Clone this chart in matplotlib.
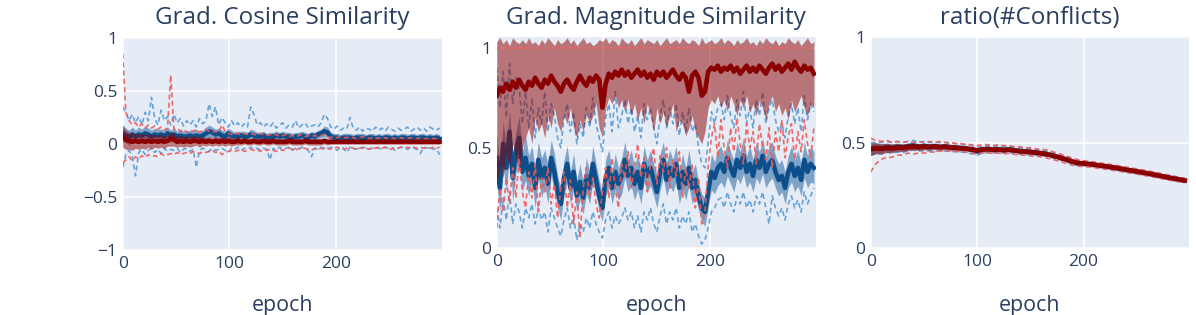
import matplotlib
matplotlib.use('Agg')
import matplotlib.pyplot as plt
import numpy as np

plt.rcParams['font.family'] = ['Open Sans', 'DejaVu Sans']

# panels 1 and 2 are read every 3 epochs, panel 3 every 5 epochs
epochs = list(range(0, 300, 3))
epochs3 = list(range(0, 300, 5))

# ---- Grad. Cosine Similarity ----
blue_mean1 = [0.10, 0.08, 0.06, 0.09, 0.07, 0.09, 0.08, 0.10, 0.09, 0.07,
              0.09, 0.08, 0.09, 0.07, 0.10, 0.08, 0.09, 0.07, 0.08, 0.07,
              0.07, 0.08, 0.07, 0.08, 0.07, 0.08, 0.10, 0.12, 0.11, 0.09,
              0.10, 0.08, 0.07, 0.10, 0.08, 0.07, 0.07, 0.08, 0.07, 0.07,
              0.09, 0.08, 0.07, 0.07, 0.08, 0.06, 0.07, 0.07, 0.08, 0.07,
              0.08, 0.07, 0.07, 0.06, 0.07, 0.07, 0.08, 0.07, 0.06, 0.08,
              0.07, 0.09, 0.10, 0.12, 0.11, 0.07, 0.06, 0.06, 0.05, 0.06,
              0.06, 0.06, 0.05, 0.06, 0.06, 0.06, 0.05, 0.06, 0.06, 0.05,
              0.06, 0.05, 0.06, 0.06, 0.05, 0.06, 0.05, 0.06, 0.06, 0.05,
              0.06, 0.06, 0.05, 0.06, 0.06, 0.05, 0.06, 0.05, 0.06, 0.05]
blue_std1 = [0.08, 0.07, 0.07, 0.07, 0.06, 0.07, 0.06, 0.07, 0.06, 0.06,
             0.06, 0.06, 0.05, 0.06, 0.06, 0.05, 0.06, 0.05, 0.06, 0.05,
             0.05, 0.05, 0.05, 0.06, 0.05, 0.05, 0.06, 0.06, 0.05, 0.05,
             0.05, 0.05, 0.05, 0.05, 0.05, 0.04, 0.05, 0.04, 0.05, 0.04,
             0.05, 0.05, 0.04, 0.04, 0.04, 0.04, 0.04, 0.04, 0.04, 0.04,
             0.04, 0.04, 0.04, 0.04, 0.04, 0.04, 0.04, 0.04, 0.04, 0.04,
             0.04, 0.04, 0.04, 0.05, 0.05, 0.04, 0.04, 0.04, 0.04, 0.04,
             0.04, 0.04, 0.04, 0.04, 0.04, 0.04, 0.04, 0.04, 0.04, 0.04,
             0.04, 0.04, 0.04, 0.04, 0.04, 0.04, 0.04, 0.04, 0.04, 0.04,
             0.04, 0.04, 0.04, 0.04, 0.04, 0.04, 0.04, 0.04, 0.04, 0.04]
blue_max1 = [0.35, 0.30, 0.22, 0.28, 0.20, 0.26, 0.18, 0.30, 0.22, 0.44,
             0.24, 0.18, 0.32, 0.22, 0.26, 0.18, 0.28, 0.20, 0.24, 0.17,
             0.22, 0.18, 0.22, 0.16, 0.24, 0.19, 0.22, 0.38, 0.26, 0.35,
             0.18, 0.25, 0.20, 0.16, 0.22, 0.17, 0.20, 0.16, 0.19, 0.16,
             0.35, 0.28, 0.18, 0.20, 0.16, 0.19, 0.16, 0.20, 0.15, 0.18,
             0.20, 0.15, 0.18, 0.16, 0.22, 0.15, 0.18, 0.20, 0.15, 0.17,
             0.18, 0.16, 0.20, 0.28, 0.24, 0.16, 0.14, 0.17, 0.13, 0.15,
             0.14, 0.25, 0.15, 0.13, 0.16, 0.12, 0.15, 0.14, 0.12, 0.16,
             0.13, 0.15, 0.12, 0.16, 0.14, 0.12, 0.15, 0.13, 0.14, 0.16,
             0.12, 0.14, 0.16, 0.13, 0.15, 0.12, 0.16, 0.14, 0.13, 0.15]
blue_min1 = [-0.22, -0.10, -0.06, -0.12, -0.30, -0.08, -0.05, -0.10, -0.06, -0.04,
             -0.08, -0.05, -0.09, -0.04, -0.07, -0.05, -0.06, -0.04, -0.08, -0.05,
             -0.04, -0.07, -0.05, -0.22, -0.06, -0.04, -0.05, -0.07, -0.04, -0.06,
             -0.05, -0.04, -0.06, -0.08, -0.04, -0.05, -0.03, -0.06, -0.04, -0.05,
             -0.03, -0.05, -0.04, -0.06, -0.04, -0.05, -0.15, -0.04, -0.06, -0.03,
             -0.05, -0.04, -0.03, -0.06, -0.04, -0.05, -0.03, -0.04, -0.06, -0.12,
             -0.04, -0.05, -0.03, -0.04, -0.05, -0.03, -0.04, -0.06, -0.03, -0.04,
             -0.08, -0.03, -0.04, -0.05, -0.03, -0.04, -0.03, -0.05, -0.04, -0.03,
             -0.04, -0.05, -0.03, -0.04, -0.03, -0.06, -0.04, -0.03, -0.04, -0.05,
             -0.03, -0.04, -0.05, -0.09, -0.03, -0.04, -0.03, -0.05, -0.04, -0.10]
red_mean1 = [0.07, 0.04, 0.03, 0.02, 0.03, 0.02, 0.03, 0.02, 0.03, 0.02,
             0.03, 0.02, 0.03, 0.02, 0.03, 0.05, 0.04, 0.02, 0.03, 0.02,
             0.03, 0.02, 0.03, 0.03, 0.02, 0.03, 0.02, 0.03, 0.02, 0.03,
             0.02, 0.03, 0.02, 0.03, 0.02, 0.02, 0.03, 0.02, 0.03, 0.02,
             0.02, 0.03, 0.02, 0.02, 0.03, 0.02, 0.02, 0.03, 0.02, 0.02,
             0.02, 0.02, 0.03, 0.02, 0.02, 0.02, 0.02, 0.03, 0.02, 0.02,
             0.02, 0.02, 0.02, 0.03, 0.02, 0.02, 0.02, 0.02, 0.02, 0.02,
             0.02, 0.02, 0.02, 0.02, 0.02, 0.02, 0.02, 0.02, 0.02, 0.02,
             0.02, 0.02, 0.02, 0.02, 0.02, 0.02, 0.02, 0.02, 0.02, 0.02,
             0.02, 0.02, 0.02, 0.02, 0.02, 0.02, 0.02, 0.02, 0.02, 0.02]
red_std1 = [0.10, 0.09, 0.08, 0.08, 0.07, 0.07, 0.07, 0.07, 0.06, 0.07,
            0.06, 0.06, 0.06, 0.06, 0.05, 0.07, 0.06, 0.05, 0.05, 0.05,
            0.05, 0.05, 0.05, 0.04, 0.05, 0.04, 0.04, 0.04, 0.04, 0.04,
            0.04, 0.04, 0.04, 0.04, 0.04, 0.03, 0.04, 0.03, 0.03, 0.03,
            0.03, 0.03, 0.03, 0.03, 0.03, 0.03, 0.03, 0.03, 0.03, 0.03,
            0.03, 0.03, 0.03, 0.03, 0.03, 0.03, 0.03, 0.03, 0.03, 0.03,
            0.03, 0.03, 0.03, 0.03, 0.03, 0.02, 0.02, 0.02, 0.02, 0.02,
            0.02, 0.02, 0.02, 0.02, 0.02, 0.02, 0.02, 0.02, 0.02, 0.02,
            0.02, 0.02, 0.02, 0.02, 0.02, 0.02, 0.02, 0.02, 0.02, 0.02,
            0.02, 0.02, 0.02, 0.02, 0.02, 0.02, 0.02, 0.02, 0.02, 0.02]
red_max1 = [0.85, 0.30, 0.22, 0.18, 0.20, 0.16, 0.19, 0.15, 0.18, 0.15,
            0.17, 0.14, 0.16, 0.13, 0.15, 0.65, 0.14, 0.15, 0.12, 0.14,
            0.11, 0.13, 0.12, 0.14, 0.11, 0.13, 0.14, 0.12, 0.11, 0.12,
            0.11, 0.18, 0.12, 0.10, 0.09, 0.11, 0.10, 0.09, 0.10, 0.09,
            0.10, 0.09, 0.08, 0.10, 0.09, 0.08, 0.09, 0.08, 0.09, 0.07,
            0.08, 0.09, 0.07, 0.08, 0.07, 0.08, 0.09, 0.07, 0.08, 0.07,
            0.08, 0.07, 0.08, 0.09, 0.07, 0.06, 0.07, 0.06, 0.07, 0.06,
            0.06, 0.07, 0.06, 0.05, 0.06, 0.07, 0.06, 0.05, 0.06, 0.05,
            0.06, 0.05, 0.06, 0.05, 0.06, 0.05, 0.05, 0.06, 0.05, 0.05,
            0.06, 0.05, 0.05, 0.06, 0.05, 0.05, 0.06, 0.05, 0.05, 0.05]
red_min1 = [-0.18, -0.15, -0.12, -0.16, -0.12, -0.14, -0.11, -0.13, -0.10, -0.12,
            -0.11, -0.12, -0.09, -0.11, -0.10, -0.09, -0.10, -0.08, -0.10, -0.09,
            -0.08, -0.09, -0.07, -0.08, -0.09, -0.07, -0.08, -0.07, -0.06, -0.08,
            -0.07, -0.10, -0.08, -0.07, -0.06, -0.07, -0.06, -0.05, -0.07, -0.06,
            -0.05, -0.06, -0.05, -0.07, -0.05, -0.06, -0.05, -0.06, -0.07, -0.05,
            -0.06, -0.05, -0.04, -0.05, -0.06, -0.04, -0.05, -0.04, -0.05, -0.06,
            -0.04, -0.05, -0.04, -0.05, -0.04, -0.05, -0.04, -0.03, -0.04, -0.05,
            -0.04, -0.03, -0.04, -0.05, -0.04, -0.03, -0.04, -0.05, -0.03, -0.04,
            -0.03, -0.04, -0.03, -0.04, -0.05, -0.03, -0.04, -0.03, -0.04, -0.03,
            -0.04, -0.03, -0.04, -0.03, -0.04, -0.03, -0.04, -0.03, -0.04, -0.03]

# ---- Grad. Magnitude Similarity ----
blue_mean2 = [0.45, 0.30, 0.52, 0.40, 0.58, 0.35, 0.48, 0.55, 0.38, 0.45,
              0.36, 0.42, 0.30, 0.44, 0.35, 0.40, 0.32, 0.45, 0.38, 0.28,
              0.22, 0.35, 0.42, 0.30, 0.38, 0.26, 0.33, 0.25, 0.36, 0.30,
              0.42, 0.34, 0.26, 0.20, 0.35, 0.40, 0.30, 0.38, 0.32, 0.36,
              0.44, 0.36, 0.40, 0.32, 0.38, 0.30, 0.42, 0.36, 0.40, 0.34,
              0.28, 0.38, 0.44, 0.34, 0.40, 0.36, 0.42, 0.30, 0.38, 0.32,
              0.40, 0.30, 0.34, 0.26, 0.20, 0.18, 0.28, 0.38, 0.35, 0.40,
              0.42, 0.38, 0.45, 0.40, 0.36, 0.44, 0.40, 0.46, 0.38, 0.42,
              0.36, 0.44, 0.40, 0.46, 0.38, 0.42, 0.44, 0.38, 0.34, 0.36,
              0.30, 0.38, 0.42, 0.36, 0.40, 0.34, 0.44, 0.38, 0.42, 0.40]
blue_std2 = [0.12, 0.12, 0.11, 0.12, 0.11, 0.12, 0.10, 0.11, 0.10, 0.11,
             0.10, 0.09, 0.10, 0.09, 0.10, 0.09, 0.10, 0.09, 0.09, 0.08,
             0.08, 0.09, 0.09, 0.08, 0.09, 0.08, 0.09, 0.08, 0.09, 0.08,
             0.09, 0.08, 0.08, 0.07, 0.09, 0.09, 0.08, 0.09, 0.08, 0.09,
             0.09, 0.08, 0.09, 0.08, 0.09, 0.08, 0.09, 0.08, 0.09, 0.08,
             0.08, 0.09, 0.09, 0.08, 0.09, 0.08, 0.09, 0.08, 0.09, 0.08,
             0.09, 0.08, 0.08, 0.07, 0.07, 0.07, 0.08, 0.09, 0.08, 0.09,
             0.09, 0.08, 0.09, 0.08, 0.08, 0.09, 0.08, 0.09, 0.08, 0.09,
             0.08, 0.09, 0.08, 0.09, 0.08, 0.09, 0.09, 0.08, 0.08, 0.08,
             0.08, 0.08, 0.09, 0.08, 0.09, 0.08, 0.09, 0.08, 0.09, 0.08]
blue_max2 = [0.90, 0.70, 0.88, 0.65, 0.92, 0.72, 0.85, 0.80, 0.62, 0.78,
             0.60, 0.75, 0.55, 0.70, 0.62, 0.78, 0.58, 0.72, 0.66, 0.55,
             0.50, 0.65, 0.72, 0.58, 0.68, 0.52, 0.62, 0.55, 0.70, 0.60,
             0.75, 0.62, 0.55, 0.48, 0.65, 0.72, 0.58, 0.78, 0.60, 0.66,
             0.74, 0.62, 0.70, 0.58, 0.66, 0.55, 0.72, 0.64, 0.70, 0.60,
             0.52, 0.66, 0.74, 0.60, 0.70, 0.62, 0.72, 0.56, 0.68, 0.58,
             0.70, 0.58, 0.62, 0.50, 0.42, 0.40, 0.52, 0.68, 0.62, 0.70,
             0.72, 0.64, 0.76, 0.66, 0.60, 0.74, 0.66, 0.78, 0.62, 0.70,
             0.60, 0.74, 0.66, 0.78, 0.62, 0.70, 0.74, 0.64, 0.58, 0.62,
             0.55, 0.66, 0.72, 0.62, 0.70, 0.58, 0.76, 0.64, 0.72, 0.68]
blue_min2 = [0.20, 0.10, 0.25, 0.14, 0.28, 0.12, 0.22, 0.18, 0.10, 0.20,
             0.15, 0.22, 0.12, 0.20, 0.14, 0.18, 0.08, 0.20, 0.15, 0.10,
             0.06, 0.14, 0.20, 0.10, 0.16, 0.04, 0.12, 0.08, 0.15, 0.10,
             0.18, 0.12, 0.08, 0.05, 0.14, 0.18, 0.10, 0.16, 0.12, 0.15,
             0.20, 0.14, 0.18, 0.10, 0.16, 0.08, 0.18, 0.14, 0.20, 0.12,
             0.08, 0.16, 0.22, 0.12, 0.18, 0.14, 0.20, 0.10, 0.16, 0.12,
             0.18, 0.08, 0.12, 0.06, 0.02, 0.04, 0.10, 0.18, 0.20, 0.24,
             0.25, 0.20, 0.28, 0.22, 0.18, 0.26, 0.22, 0.28, 0.20, 0.24,
             0.18, 0.26, 0.22, 0.28, 0.20, 0.12, 0.26, 0.20, 0.16, 0.20,
             0.14, 0.22, 0.26, 0.20, 0.24, 0.18, 0.28, 0.22, 0.26, 0.30]
red_mean2 = [0.76, 0.80, 0.78, 0.82, 0.79, 0.83, 0.80, 0.84, 0.81, 0.79,
             0.83, 0.81, 0.85, 0.82, 0.80, 0.84, 0.82, 0.86, 0.83, 0.81,
             0.78, 0.82, 0.84, 0.81, 0.79, 0.83, 0.86, 0.83, 0.81, 0.85,
             0.83, 0.86, 0.84, 0.70, 0.82, 0.87, 0.85, 0.88, 0.86, 0.89,
             0.86, 0.88, 0.85, 0.87, 0.89, 0.86, 0.88, 0.85, 0.87, 0.84,
             0.88, 0.86, 0.88, 0.85, 0.87, 0.89, 0.86, 0.84, 0.87, 0.85,
             0.78, 0.86, 0.88, 0.85, 0.76, 0.78, 0.88, 0.90, 0.89, 0.91,
             0.88, 0.90, 0.89, 0.91, 0.88, 0.90, 0.87, 0.89, 0.91, 0.88,
             0.90, 0.88, 0.91, 0.89, 0.87, 0.90, 0.92, 0.89, 0.91, 0.88,
             0.90, 0.92, 0.89, 0.93, 0.90, 0.88, 0.91, 0.89, 0.90, 0.87]
red_hi2 = [1.03, 1.05, 1.02, 1.04, 1.01, 1.05, 1.03, 1.02, 1.04, 1.02,
           1.05, 1.02, 1.03, 1.01, 1.04, 1.02, 1.05, 1.03, 1.01, 1.04,
           1.02, 1.03, 1.05, 1.02, 1.04, 1.01, 1.03, 1.05, 1.02, 1.03,
           1.01, 1.02, 1.04, 1.03, 1.05, 1.02, 1.04, 1.03, 1.01, 1.05,
           1.03, 1.02, 1.04, 1.01, 1.03, 1.05, 1.02, 1.04, 1.03, 1.02,
           1.04, 1.01, 1.03, 1.05, 1.02, 1.03, 1.04, 1.02, 1.05, 1.03,
           1.02, 1.04, 1.03, 1.01, 1.05, 1.02, 1.03, 1.04, 1.02, 1.03,
           1.05, 1.02, 1.04, 1.03, 1.01, 1.04, 1.02, 1.03, 1.05, 1.02,
           1.03, 1.01, 1.04, 1.02, 1.05, 1.03, 1.02, 1.04, 1.01, 1.03,
           1.02, 1.05, 1.03, 1.02, 1.04, 1.01, 1.03, 1.05, 1.02, 1.03]
red_lo2 = [0.30, 0.42, 0.35, 0.48, 0.40, 0.52, 0.45, 0.38, 0.50, 0.55,
           0.60, 0.52, 0.65, 0.58, 0.62, 0.55, 0.66, 0.60, 0.70, 0.62,
           0.58, 0.66, 0.62, 0.70, 0.60, 0.55, 0.64, 0.58, 0.68, 0.62,
           0.66, 0.72, 0.60, 0.55, 0.70, 0.75, 0.72, 0.76, 0.70, 0.74,
           0.68, 0.74, 0.66, 0.72, 0.64, 0.70, 0.62, 0.72, 0.66, 0.58,
           0.70, 0.62, 0.68, 0.60, 0.66, 0.72, 0.58, 0.64, 0.62, 0.56,
           0.60, 0.66, 0.58, 0.55, 0.52, 0.58, 0.70, 0.74, 0.72, 0.76,
           0.70, 0.74, 0.68, 0.76, 0.72, 0.66, 0.74, 0.70, 0.76, 0.68,
           0.72, 0.66, 0.74, 0.70, 0.64, 0.72, 0.76, 0.68, 0.72, 0.66,
           0.70, 0.64, 0.74, 0.68, 0.72, 0.76, 0.70, 0.66, 0.72, 0.70]
red_max2 = [1.00, 1.00, 1.00, 1.00, 1.00, 1.00, 1.00, 1.00, 1.00, 1.00,
            1.00, 1.00, 1.00, 1.00, 1.00, 1.00, 1.00, 1.00, 1.00, 1.00,
            1.00, 1.00, 1.00, 1.00, 1.00, 1.00, 1.00, 1.00, 1.00, 1.00,
            1.00, 1.00, 1.00, 1.00, 1.00, 1.00, 1.00, 1.00, 1.00, 1.00,
            1.00, 1.00, 1.00, 1.00, 1.00, 1.00, 1.00, 1.00, 1.00, 1.00,
            1.00, 1.00, 1.00, 1.00, 1.00, 1.00, 1.00, 1.00, 1.00, 1.00,
            1.00, 1.00, 1.00, 1.00, 1.00, 1.00, 1.00, 1.00, 1.00, 1.00,
            1.00, 1.00, 1.00, 1.00, 1.00, 1.00, 1.00, 1.00, 1.00, 1.00,
            1.00, 1.00, 1.00, 1.00, 1.00, 1.00, 1.00, 1.00, 1.00, 1.00,
            1.00, 1.00, 1.00, 1.00, 1.00, 1.00, 1.00, 1.00, 1.00, 1.00]
red_min2 = [0.10, 0.30, 0.18, 0.35, 0.22, 0.40, 0.25, 0.45, 0.28, 0.20,
            0.38, 0.25, 0.42, 0.18, 0.35, 0.28, 0.40, 0.22, 0.32, 0.15,
            0.30, 0.38, 0.20, 0.34, 0.12, 0.28, 0.05, 0.30, 0.40, 0.25,
            0.35, 0.22, 0.15, 0.28, 0.40, 0.25, 0.45, 0.30, 0.20, 0.42,
            0.35, 0.48, 0.30, 0.40, 0.52, 0.35, 0.45, 0.28, 0.42, 0.50,
            0.32, 0.46, 0.38, 0.50, 0.30, 0.44, 0.36, 0.48, 0.25, 0.40,
            0.30, 0.42, 0.20, 0.35, 0.12, 0.18, 0.40, 0.55, 0.62, 0.45,
            0.64, 0.50, 0.40, 0.60, 0.48, 0.65, 0.52, 0.42, 0.62, 0.50,
            0.58, 0.42, 0.62, 0.50, 0.44, 0.60, 0.40, 0.58, 0.48, 0.64,
            0.45, 0.56, 0.62, 0.44, 0.58, 0.48, 0.64, 0.52, 0.45, 0.60]

# ---- ratio(#Conflicts) ----
blue_mean3 = [0.470, 0.475, 0.472, 0.478, 0.474, 0.480, 0.476, 0.482, 0.486, 0.480,
              0.484, 0.480, 0.483, 0.479, 0.481, 0.478, 0.476, 0.474, 0.472, 0.466,
              0.458, 0.468, 0.470, 0.466, 0.468, 0.465, 0.468, 0.463, 0.460, 0.458,
              0.456, 0.453, 0.450, 0.446, 0.440, 0.433, 0.426, 0.418, 0.408, 0.402,
              0.400, 0.398, 0.395, 0.391, 0.388, 0.384, 0.380, 0.376, 0.371, 0.367,
              0.363, 0.358, 0.354, 0.349, 0.344, 0.339, 0.334, 0.329, 0.325, 0.320]
blue_std3 = [0.030, 0.025, 0.022, 0.020, 0.020, 0.018, 0.018, 0.016, 0.016, 0.015,
             0.015, 0.014, 0.014, 0.013, 0.013, 0.013, 0.012, 0.012, 0.012, 0.012,
             0.011, 0.011, 0.011, 0.011, 0.010, 0.010, 0.010, 0.010, 0.010, 0.010,
             0.009, 0.009, 0.009, 0.009, 0.009, 0.009, 0.009, 0.009, 0.009, 0.009,
             0.008, 0.008, 0.008, 0.008, 0.008, 0.008, 0.008, 0.008, 0.008, 0.008,
             0.008, 0.008, 0.008, 0.008, 0.008, 0.008, 0.008, 0.008, 0.008, 0.008]
blue_max3 = [0.500, 0.500, 0.500, 0.505, 0.500, 0.505, 0.500, 0.505, 0.510, 0.500,
             0.505, 0.500, 0.500, 0.500, 0.500, 0.495, 0.495, 0.490, 0.490, 0.485,
             0.475, 0.485, 0.485, 0.480, 0.485, 0.480, 0.480, 0.478, 0.475, 0.472,
             0.470, 0.466, 0.463, 0.458, 0.452, 0.445, 0.438, 0.430, 0.420, 0.414,
             0.411, 0.408, 0.405, 0.401, 0.398, 0.394, 0.390, 0.386, 0.381, 0.377,
             0.373, 0.368, 0.364, 0.359, 0.354, 0.349, 0.344, 0.339, 0.335, 0.330]
blue_min3 = [0.440, 0.450, 0.445, 0.455, 0.450, 0.455, 0.452, 0.460, 0.465, 0.458,
             0.462, 0.460, 0.462, 0.458, 0.460, 0.458, 0.456, 0.455, 0.452, 0.446,
             0.440, 0.450, 0.452, 0.450, 0.452, 0.450, 0.452, 0.448, 0.445, 0.444,
             0.442, 0.440, 0.437, 0.434, 0.428, 0.421, 0.414, 0.406, 0.396, 0.390,
             0.389, 0.388, 0.385, 0.381, 0.378, 0.374, 0.370, 0.366, 0.361, 0.357,
             0.353, 0.348, 0.344, 0.339, 0.334, 0.329, 0.324, 0.319, 0.315, 0.310]
red_mean3 = [0.468, 0.472, 0.470, 0.474, 0.472, 0.476, 0.475, 0.478, 0.480, 0.478,
             0.480, 0.479, 0.481, 0.478, 0.480, 0.477, 0.475, 0.473, 0.471, 0.468,
             0.463, 0.467, 0.469, 0.466, 0.467, 0.464, 0.466, 0.462, 0.459, 0.457,
             0.455, 0.452, 0.449, 0.445, 0.439, 0.432, 0.425, 0.417, 0.409, 0.403,
             0.401, 0.398, 0.395, 0.391, 0.388, 0.384, 0.380, 0.376, 0.371, 0.367,
             0.363, 0.358, 0.354, 0.349, 0.344, 0.339, 0.334, 0.329, 0.325, 0.320]
red_std3 = [0.030, 0.026, 0.024, 0.022, 0.020, 0.019, 0.018, 0.017, 0.016, 0.016,
            0.015, 0.015, 0.014, 0.014, 0.013, 0.013, 0.013, 0.012, 0.012, 0.012,
            0.012, 0.011, 0.011, 0.011, 0.011, 0.010, 0.010, 0.010, 0.010, 0.010,
            0.010, 0.010, 0.010, 0.009, 0.009, 0.009, 0.009, 0.009, 0.009, 0.009,
            0.008, 0.008, 0.008, 0.008, 0.008, 0.008, 0.008, 0.008, 0.008, 0.008,
            0.008, 0.008, 0.008, 0.008, 0.008, 0.008, 0.008, 0.008, 0.008, 0.008]
red_max3 = [0.520, 0.510, 0.505, 0.510, 0.500, 0.505, 0.500, 0.505, 0.500, 0.505,
            0.500, 0.505, 0.500, 0.505, 0.500, 0.500, 0.495, 0.495, 0.490, 0.490,
            0.485, 0.490, 0.490, 0.485, 0.490, 0.485, 0.485, 0.480, 0.480, 0.475,
            0.475, 0.470, 0.468, 0.465, 0.458, 0.450, 0.442, 0.434, 0.425, 0.418,
            0.414, 0.410, 0.407, 0.403, 0.400, 0.396, 0.392, 0.388, 0.383, 0.379,
            0.375, 0.370, 0.366, 0.361, 0.356, 0.350, 0.345, 0.340, 0.335, 0.330]
red_min3 = [0.360, 0.400, 0.420, 0.430, 0.430, 0.440, 0.440, 0.450, 0.445, 0.450,
            0.450, 0.455, 0.455, 0.460, 0.460, 0.460, 0.458, 0.455, 0.455, 0.450,
            0.445, 0.450, 0.452, 0.448, 0.450, 0.447, 0.448, 0.444, 0.440, 0.440,
            0.437, 0.435, 0.432, 0.427, 0.421, 0.414, 0.407, 0.399, 0.392, 0.388,
            0.386, 0.384, 0.381, 0.377, 0.374, 0.370, 0.366, 0.362, 0.358, 0.354,
            0.350, 0.346, 0.341, 0.337, 0.332, 0.327, 0.322, 0.318, 0.314, 0.310]

titles = ['Grad. Cosine Similarity', 'Grad. Magnitude Similarity', 'ratio(#Conflicts)']

BG = '#E5ECF6'
TXT = '#2a3f5f'
BLUE_LINE = '#0d4f8b'
BLUE_BAND = '#1a5a9a'
BLUE_DASH = '#5b9bd5'
RED_LINE = '#8b0000'
RED_BAND = '#8b0000'
RED_DASH = '#ef5a5a'


def draw_group(ax, x, mean, lo, hi, dmin, dmax, band, dash, line, z):
    ax.fill_between(x, lo, hi, color=band, alpha=0.5, lw=0, zorder=z)
    ax.plot(x, dmin, color=dash, lw=1.2, dashes=(3, 2), alpha=0.9, zorder=z + 1)
    ax.plot(x, dmax, color=dash, lw=1.2, dashes=(3, 2), alpha=0.9, zorder=z + 1)
    ax.plot(x, mean, color=line, lw=3.3, zorder=z + 2)


def style_axes(ax, ylim, yticks, yticklabels):
    ax.set_facecolor(BG)
    for s in ax.spines.values():
        s.set_visible(False)
    ax.set_xlim(0, 299)
    ax.set_ylim(*ylim)
    ax.set_xticks([0, 100, 200])
    ax.set_yticks(yticks)
    ax.set_yticklabels(yticklabels)
    ax.tick_params(length=0, labelsize=12.5, labelcolor=TXT, pad=4)
    ax.grid(True, color='white', lw=1.1)
    ax.set_axisbelow(True)


def main():
    fig = plt.figure(figsize=(11.96, 3.15), dpi=100)
    x = np.array(epochs)
    x3 = np.array(epochs3)
    rects = [[0.1026, 0.2063, 0.2667, 0.673],
             [0.4153, 0.2127, 0.2670, 0.6698],
             [0.7280, 0.2127, 0.2661, 0.6698]]
    axes = [fig.add_axes(r) for r in rects]

    ax = axes[0]
    bm, bs = np.array(blue_mean1), np.array(blue_std1)
    rm, rs = np.array(red_mean1), np.array(red_std1)
    draw_group(ax, x, bm, bm - bs, bm + bs, blue_min1, blue_max1, BLUE_BAND, BLUE_DASH, BLUE_LINE, 2)
    draw_group(ax, x, rm, rm - rs, rm + rs, red_min1, red_max1, RED_BAND, RED_DASH, RED_LINE, 5)
    ax.axhline(0, color='white', lw=1.6, zorder=1)
    style_axes(ax, (-1, 1), [-1, -0.5, 0, 0.5, 1], ['\u22121', '\u22120.5', '0', '0.5', '1'])

    ax = axes[1]
    bm, bs = np.array(blue_mean2), np.array(blue_std2)
    draw_group(ax, x, bm, bm - bs, bm + bs, blue_min2, blue_max2, BLUE_BAND, BLUE_DASH, BLUE_LINE, 2)
    draw_group(ax, x, red_mean2, red_lo2, red_hi2, red_min2, red_max2, RED_BAND, RED_DASH, RED_LINE, 5)
    style_axes(ax, (0, 1.053), [0, 0.5, 1], ['0', '0.5', '1'])

    ax = axes[2]
    bm, bs = np.array(blue_mean3), np.array(blue_std3)
    rm, rs = np.array(red_mean3), np.array(red_std3)
    draw_group(ax, x3, bm, bm - bs, bm + bs, blue_min3, blue_max3, BLUE_BAND, BLUE_DASH, BLUE_LINE, 2)
    draw_group(ax, x3, rm, rm - rs, rm + rs, red_min3, red_max3, RED_BAND, RED_DASH, RED_LINE, 5)
    style_axes(ax, (0, 1), [0, 0.5, 1], ['0', '0.5', '1'])

    for ax, t in zip(axes, titles):
        pos = ax.get_position()
        cx = (pos.x0 + pos.x1) / 2
        fig.text(cx, 1 - 18 / 315, t, ha='center', va='center', fontsize=17.4, color=TXT)
        fig.text(cx, 1 - 306 / 315, 'epoch', ha='center', va='center', fontsize=15.4, color=TXT)

    fig.savefig('out.png', dpi=100, facecolor='white')


if __name__ == "__main__":
    main()
